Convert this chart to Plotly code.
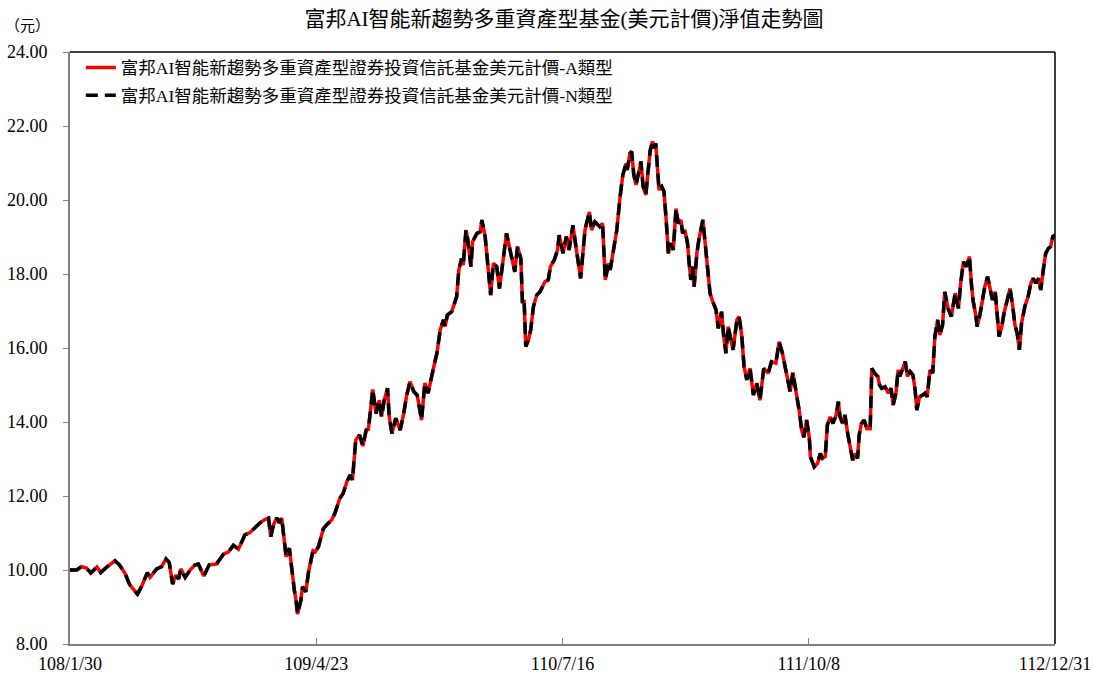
import datetime as dt
import plotly.graph_objects as go

# ---- data ----
start_date = dt.date(2019, 1, 30)
day_offsets = [
    0, 12, 21, 30, 38, 49, 56, 67, 82, 90, 100, 109, 123, 131, 141, 146, 158, 167, 175, 181,
    187, 193, 198, 202, 210, 219, 228, 234, 244, 254, 267, 280, 289, 298, 307, 319, 328, 340,
    346, 356, 362, 366, 371, 377, 382, 386, 390, 394, 400, 404, 409, 412, 415, 421, 424, 430,
    435, 443, 447, 453, 462, 468, 477, 483, 492, 498, 505, 511, 515, 518, 521, 528, 534, 540,
    544, 548, 552, 558, 564, 568, 573, 579, 582, 587, 594, 602, 608, 614, 620, 627, 633, 641,
    647, 653, 658, 662, 669, 675, 681, 684, 688, 696, 702, 705, 709, 714, 717, 722, 725, 728,
    731, 734, 742, 748, 751, 757, 760, 765, 767, 772, 778, 783, 787, 791, 796, 801, 805, 811,
    816, 822, 825, 828, 831, 836, 840, 845, 851, 857, 866, 872, 876, 883, 889, 892, 899, 905,
    910, 917, 923, 931, 939, 947, 951, 957, 966, 971, 976, 979, 982, 985, 990, 994, 997, 1003,
    1008, 1014, 1016, 1021, 1024, 1028, 1032, 1036, 1041, 1045, 1050, 1054, 1058, 1062, 1065,
    1068, 1071, 1074, 1079, 1083, 1087, 1091, 1095, 1100, 1105, 1109, 1114, 1117, 1121, 1126,
    1129, 1132, 1135, 1138, 1143, 1147, 1154, 1158, 1162, 1167, 1172, 1178, 1182, 1188, 1192,
    1196, 1200, 1205, 1209, 1216, 1220, 1225, 1229, 1234, 1240, 1246, 1252, 1258, 1265, 1273,
    1279, 1287, 1293, 1299, 1307, 1313, 1318, 1325, 1330, 1334, 1338, 1343, 1348, 1350, 1357,
    1363, 1368, 1372, 1377, 1381, 1386, 1391, 1397, 1401, 1404, 1409, 1413, 1418, 1424, 1427,
    1431, 1436, 1439, 1443, 1448, 1453, 1459, 1462, 1467, 1473, 1476, 1480, 1486, 1492, 1497,
    1501, 1506, 1510, 1513, 1518, 1523, 1527, 1532, 1537, 1541, 1544, 1549, 1555, 1559, 1563,
    1568, 1573, 1577, 1582, 1586, 1591, 1595, 1601, 1607, 1614, 1620, 1624, 1629, 1634, 1640,
    1644, 1647, 1652, 1654, 1659, 1664, 1668, 1673, 1677, 1682, 1687, 1691, 1694, 1699, 1703,
    1709, 1714, 1719, 1723, 1727, 1731, 1735, 1741, 1747, 1752, 1756, 1761, 1766, 1770, 1775,
    1779, 1784, 1788, 1792, 1796,
]
nav_a = [
    10.00, 10.00, 10.09, 10.05, 9.92, 10.08, 9.93, 10.08, 10.25, 10.14, 9.92, 9.60, 9.35, 9.57,
    9.93, 9.80, 10.03, 10.09, 10.30, 10.20, 9.62, 9.86, 9.76, 10.03, 9.80, 10.00, 10.14, 10.16,
    9.84, 10.14, 10.16, 10.43, 10.49, 10.67, 10.56, 10.95, 11.01, 11.17, 11.27, 11.37, 11.40,
    10.90, 11.22, 11.41, 11.27, 11.41, 10.81, 10.36, 10.59, 10.00, 9.46, 9.19, 8.81, 9.19, 9.55,
    9.41, 9.95, 10.52, 10.49, 10.63, 11.12, 11.22, 11.35, 11.53, 11.94, 12.07, 12.39, 12.57,
    12.43, 12.97, 13.51, 13.65, 13.35, 13.78, 13.80, 14.32, 14.88, 14.23, 14.59, 14.14, 14.59,
    14.91, 14.14, 13.69, 14.10, 13.78, 14.19, 14.73, 15.09, 14.82, 14.73, 14.05, 15.05, 14.78,
    15.18, 15.41, 15.86, 16.49, 16.76, 16.58, 16.89, 16.98, 17.25, 17.39, 18.11, 18.42, 18.24,
    19.19, 18.96, 18.51, 18.20, 18.87, 19.10, 19.14, 19.46, 19.01, 18.51, 17.84, 17.43, 18.29,
    18.20, 17.61, 18.06, 18.65, 19.10, 18.74, 18.42, 18.06, 18.74, 18.42, 17.21, 17.30, 16.04,
    16.22, 16.49, 17.12, 17.43, 17.52, 17.79, 17.84, 18.20, 18.38, 18.65, 19.05, 18.56, 19.01,
    18.65, 19.32, 18.69, 17.88, 19.19, 19.68, 19.19, 19.41, 19.28, 19.37, 17.84, 18.11, 18.29,
    18.11, 18.56, 18.96, 19.19, 20.09, 20.68, 20.99, 20.81, 21.26, 21.31, 20.68, 20.41, 20.68,
    21.04, 20.36, 20.14, 20.77, 21.35, 21.58, 21.40, 21.53, 20.90, 20.27, 20.36, 20.23, 19.46,
    18.56, 18.83, 18.65, 19.77, 19.37, 19.46, 19.10, 19.19, 18.83, 18.29, 17.84, 18.20, 17.66,
    18.56, 18.96, 19.46, 18.83, 18.11, 17.48, 17.25, 17.03, 16.53, 16.98, 16.31, 15.86, 16.58,
    16.17, 15.95, 16.76, 16.85, 16.31, 15.50, 15.14, 15.45, 14.73, 15.05, 14.59, 15.45, 15.32,
    15.63, 15.59, 16.17, 15.86, 15.32, 14.82, 15.34, 14.78, 14.27, 13.78, 13.59, 14.05, 13.59,
    13.06, 12.79, 12.88, 13.15, 13.02, 13.06, 13.92, 14.14, 13.96, 14.19, 14.55, 14.14, 13.96,
    14.19, 13.69, 13.24, 12.97, 13.15, 13.02, 13.65, 13.96, 14.05, 13.82, 13.82, 15.45, 15.32,
    15.23, 15.00, 14.91, 14.95, 14.78, 14.91, 14.46, 14.78, 15.41, 15.23, 15.41, 15.63, 15.23,
    15.36, 15.27, 14.86, 14.32, 14.68, 14.73, 14.78, 14.68, 15.41, 15.32, 16.31, 16.76, 16.35,
    16.62, 17.52, 17.07, 16.85, 17.48, 17.07, 17.75, 18.33, 18.20, 18.47, 17.66, 17.25, 16.85,
    16.58, 16.89, 17.39, 17.66, 17.93, 17.66, 17.30, 17.52, 16.94, 16.31, 16.58, 16.94, 17.30,
    17.61, 17.12, 16.62, 16.40, 15.95, 16.67, 17.12, 17.39, 17.75, 17.88, 17.75, 17.88, 17.57,
    18.15, 18.56, 18.69, 18.74, 19.01, 19.05,
]
nav_n = list(nav_a)  # N class tracks A class (visually identical)

tick_dates = ["2019-01-30", "2020-04-23", "2021-07-16", "2022-10-08", "2023-12-31"]
tick_labels = ["108/1/30", "109/4/23", "110/7/16", "111/10/8", "112/12/31"]
y_ticks = [8, 10, 12, 14, 16, 18, 20, 22, 24]
name_a = "富邦AI智能新趨勢多重資產型證券投資信託基金美元計價-A類型"
name_n = "富邦AI智能新趨勢多重資產型證券投資信託基金美元計價-N類型"
title_text = "富邦AI智能新趨勢多重資產型基金(美元計價)淨值走勢圖"
unit_text = "（元）"

dates = [start_date + dt.timedelta(days=d) for d in day_offsets]

FONT = "Liberation Serif, 'Noto Sans CJK TC', serif"

fig = go.Figure()
fig.add_trace(go.Scatter(x=dates, y=nav_a, mode="lines", name=name_a, legendgroup="a",
                         line=dict(color="#ff0000", width=3.5)))
fig.add_trace(go.Scatter(x=dates, y=nav_n, mode="lines", name=name_n, legendgroup="n",
                         line=dict(color="#000000", width=3.5, dash="12px,7px")))

# y tick labels placed with a wider gap from the axis (as in the reference)
y_label_annotations = [
    dict(text=f"{v:.2f}", xref="paper", yref="y", x=-0.0203, y=v,
         xanchor="right", yanchor="middle", showarrow=False,
         font=dict(family=FONT, size=18, color="#000000"))
    for v in y_ticks
]

fig.update_layout(
    width=1093, height=675,
    margin=dict(l=70, r=38, t=52, b=31, autoexpand=False),
    paper_bgcolor="white", plot_bgcolor="white",
    font=dict(family=FONT, size=18, color="#000000"),
    title=dict(text=title_text, x=0.516, xanchor="center", y=0.973, yanchor="middle",
               font=dict(family=FONT, size=21, color="#000000")),
    showlegend=True,
    legend=dict(x=0.011, y=1.004, xanchor="left", yanchor="top",
                bgcolor="rgba(255,255,255,0)", borderwidth=0,
                font=dict(family=FONT, size=17.5, color="#000000"),
                traceorder="grouped", tracegroupgap=2),
    xaxis=dict(
        type="date", range=["2019-01-30", "2023-12-31"],
        tickvals=tick_dates, ticktext=tick_labels,
        showgrid=False, zeroline=False, automargin=False,
        showline=True, linecolor="#808080", linewidth=1.5,
        ticks="inside", ticklen=6, tickcolor="#808080", tickwidth=1,
        ticklabelstandoff=3,
        tickfont=dict(family=FONT, size=18),
    ),
    yaxis=dict(
        range=[8, 24], tickvals=y_ticks, showticklabels=False,
        showgrid=False, zeroline=False, automargin=False,
        showline=True, linecolor="#808080", linewidth=1.5,
        ticks="outside", ticklen=5, tickcolor="#808080", tickwidth=1,
    ),
    shapes=[
        dict(type="line", xref="paper", yref="paper", x0=0, x1=1, y0=1, y1=1,
             line=dict(color="#000000", width=1.5)),
        dict(type="line", xref="paper", yref="paper", x0=1, x1=1, y0=0, y1=1,
             line=dict(color="#000000", width=1.5)),
    ],
    annotations=[
        dict(text=unit_text, xref="paper", yref="paper", x=-0.043, y=1.044,
             xanchor="center", yanchor="middle", showarrow=False,
             font=dict(family=FONT, size=15, color="#000000")),
    ] + y_label_annotations,
)

fig.write_html(
    "out.html",
    config={"displayModeBar": False},
    post_script="document.body.style.margin='0';document.body.style.padding='0';"
                "document.body.style.overflow='hidden';",
)
